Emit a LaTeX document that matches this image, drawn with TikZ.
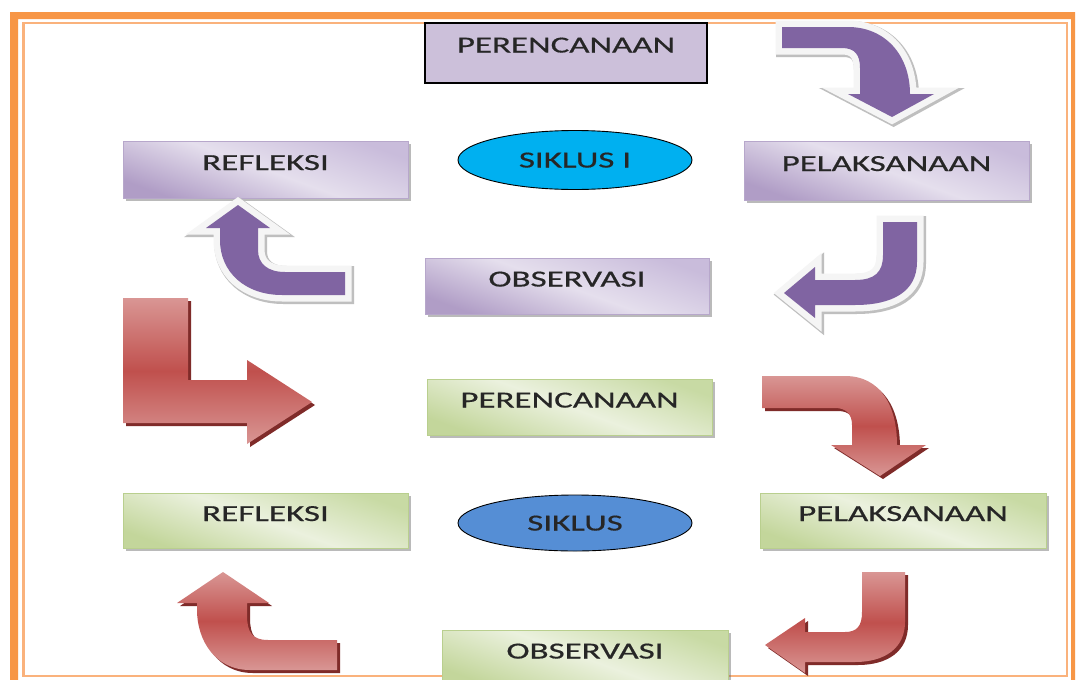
\documentclass[tikz,border=0pt]{standalone}
\usepackage{fontspec}
\newfontfamily\lblfont[FakeStretch=1.52,FakeBold=0.6]{Carlito}
\usetikzlibrary{shadows,shapes.geometric}
\definecolor{orangeF}{HTML}{F79646}
\definecolor{orangeL}{HTML}{FAB27C}
\definecolor{pArrow}{HTML}{8064A2}
\definecolor{pTop}{HTML}{C9BCDB}
\definecolor{pMid}{HTML}{E5DFED}
\definecolor{pBot}{HTML}{B09DC6}
\definecolor{pBord}{HTML}{B7A7CB}
\definecolor{pSolid}{HTML}{CCC0DA}
\definecolor{gTop}{HTML}{C8DAA4}
\definecolor{gMid}{HTML}{EBF1DE}
\definecolor{gBot}{HTML}{C3D69B}
\definecolor{gBord}{HTML}{B9CF8E}
\definecolor{cyanE}{HTML}{00B0F0}
\definecolor{blueE}{HTML}{558ED5}
\definecolor{rLight}{HTML}{D99694}
\definecolor{rDark}{HTML}{C0504D}
\definecolor{rShadow}{HTML}{7F2B29}
\definecolor{txt}{HTML}{262626}
\def\pA{(782,27) -- (848,27) .. controls (885,27) and (910,55) .. (910,94) -- (934,94) -- (892,117) -- (848,94) -- (860,94) -- (860,68) .. controls (860,55) and (855,48) .. (842,48) -- (782,48) -- cycle}
\def\pB{(883,222) -- (917,222) -- (917,262) .. controls (917,292) and (892,305) .. (855,305) -- (815,305) -- (815,318) -- (784,293) -- (815,267) -- (815,280) -- (855,280) .. controls (875,280) and (883,272) .. (883,255) -- cycle}
\def\pC{(238,205) -- (270,228) -- (258,228) -- (258,250) .. controls (258,264) and (268,272) .. (285,272) -- (345,272) -- (345,295) -- (282,295) .. controls (245,295) and (220,272) .. (220,240) -- (220,228) -- (206,228) -- cycle}
\def\rA{(123,298) -- (188,298) -- (188,380) -- (247,380) -- (247,360) -- (312,402) -- (247,444) -- (247,423) -- (123,423) -- cycle}
\def\rB{(762,376) -- (845,376) .. controls (880,376) and (897,405) .. (897,445) -- (926,445) -- (880,476) -- (831,445) -- (852,445) -- (852,425) .. controls (852,414) and (846,408) .. (835,408) -- (762,408) -- cycle}
\def\rC{(862,572) -- (905,572) -- (905,622) .. controls (905,648) and (885,662) .. (855,662) -- (805,662) -- (805,673) -- (765,645) -- (805,618) -- (805,632) -- (845,632) .. controls (857,632) and (862,626) .. (862,612) -- cycle}
\def\rD{(223,572) -- (269,603) -- (247,603) -- (247,615) .. controls (247,632) and (252,640) .. (268,640) -- (337,640) -- (337,670) -- (250,670) .. controls (215,670) and (197,640) .. (197,610) -- (197,603) -- (177,603) -- cycle}
\begin{document}
\begin{tikzpicture}[x=1pt,y=-1pt,
 lbl/.style={font=\lblfont\fontsize{23}{23}\selectfont, text=txt},
 box/.style={lbl, rectangle, inner sep=0pt, text height=15pt, text depth=14pt, line width=0.8pt,
   drop shadow={shadow xshift=3pt, shadow yshift=-3pt, opacity=0.45, fill=black!60}},
 pbox/.style={box, draw=pBord, top color=pTop, bottom color=pBot, middle color=pMid, shading angle=-20},
 gbox/.style={box, draw=gBord, top color=gTop, bottom color=gBot, middle color=gMid, shading angle=-20},
 cyc/.style={lbl, ellipse, draw=black, line width=0.9pt, inner sep=0pt, text height=15pt, text depth=0pt},
 poutshadow/.style={draw=black!25, line width=15pt, shift={(1.5,1.5)}},
 poutwhite/.style={draw=white!96!black, line width=13pt},
 pfill/.style={fill=pArrow},
 rshadow/.style={fill=rShadow, shift={(3,3)}},
 rfill/.style={top color=rLight, bottom color=rLight, middle color=rDark}
]
\useasboundingbox (0,0) rectangle (1079,680);
\fill[white] (0,0) rectangle (1079,680);
% frame
\fill[orangeF, even odd rule] (10,12) rectangle (1075,700) (18,19) rectangle (1071,700);
\draw[orangeL, line width=2.5pt] (23.5,23) rectangle (1067,676);

% cycle I
\node[rectangle, draw=black, line width=1.2pt, fill=pSolid, lbl, inner sep=0pt, text height=15pt, text depth=16pt,
  minimum width=282pt, minimum height=60pt] (plan1) at (566,53) {PERENCANAAN};
\node[pbox, minimum width=285pt, minimum height=57pt] (refl1) at (265.5,169.5) {REFLEKSI};
\node[cyc, fill=cyanE, minimum width=234pt, minimum height=59pt] (sik1) at (575,160) {SIKLUS I};
\node[pbox, minimum width=285pt, minimum height=59pt] (pel1) at (886.5,170.5) {PELAKSANAAN};
\node[pbox, minimum width=284pt, minimum height=56pt] (obs1) at (567,286) {OBSERVASI};

% cycle II
\node[gbox, minimum width=285pt, minimum height=56pt] (plan2) at (569.5,407) {PERENCANAAN};
\node[gbox, minimum width=285pt, minimum height=55pt] (refl2) at (265.5,520.5) {REFLEKSI};
\node[cyc, fill=blueE, minimum width=234pt, minimum height=56pt] (sik2) at (575,523) {SIKLUS};
\node[gbox, minimum width=286pt, minimum height=55pt] (pel2) at (903,520.5) {PELAKSANAAN};
\node[gbox, minimum width=286pt, minimum height=56pt] (obs2) at (585,658) {OBSERVASI};

% purple block arrows
\draw[poutshadow] \pA; \draw[poutwhite] \pA; \fill[pfill] \pA;
\draw[poutshadow] \pB; \draw[poutwhite] \pB; \fill[pfill] \pB;
\draw[poutshadow] \pC; \draw[poutwhite] \pC; \fill[pfill] \pC;

% red block arrows
\fill[rshadow] \rA; \shade[rfill] \rA;
\fill[rshadow] \rB; \shade[rfill] \rB;
\fill[rshadow] \rC; \shade[rfill] \rC;
\fill[rshadow] \rD; \shade[rfill] \rD;
\end{tikzpicture}
\end{document}
